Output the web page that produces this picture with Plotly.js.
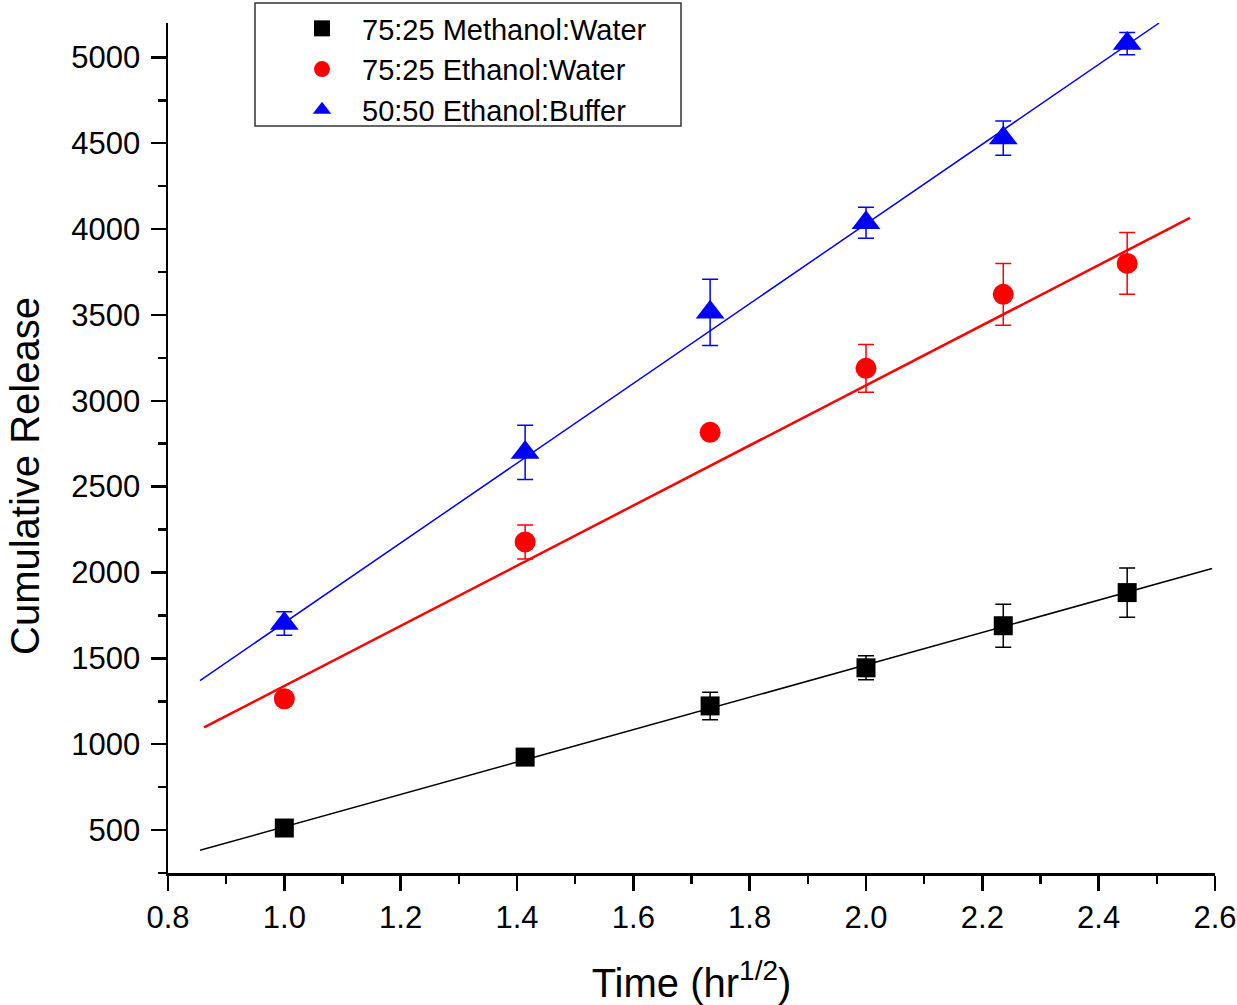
<!DOCTYPE html>
<html>
<head>
<meta charset="utf-8">
<script src="https://cdn.plot.ly/plotly-3.0.1.min.js"></script>
<style>html,body{margin:0;padding:0;background:#fff;}#chart{width:1237px;height:1005px;}</style>
</head>
<body>
<div id="chart"></div>
<script>
// ---- data ----
const timeX = [1.0, 1.414, 1.732, 2.0, 2.236, 2.449];

const seriesNames = ["75:25 Methanol:Water", "75:25 Ethanol:Water", "50:50 Ethanol:Buffer"];

const methanolY   = [512, 925, 1223, 1445, 1690, 1883];
const methanolErr = [0, 0, 80, 70, 125, 143];

const ethanolY    = [1265, 2178, 2816, 3189, 3620, 3800];
const ethanolErr  = [0, 99, 0, 139, 180, 180];

const bufferY     = [1703, 2699, 3515, 4037, 4530, 5080];
const bufferErr   = [68, 158, 193, 90, 100, 65];

// linear-fit line end points as drawn in the reference
const methanolFitX = [0.855, 2.595];
const methanolFitY = [382, 2023];
const ethanolFitX  = [0.862, 2.557];
const ethanolFitY  = [1098, 4065];
const bufferFitX   = [0.855, 2.504];
const bufferFitY   = [1371, 5200];

const xTitle = "Time (hr<sup>1/2</sup>)";
const yTitle = "Cumulative Release";

// ---- chart ----
const FONT = "Liberation Sans, Arial, Helvetica, sans-serif";

function pts(name, y, err, color, symbol, size) {
  return {
    type: "scatter", mode: "markers", name: name,
    x: timeX, y: y,
    marker: {color: color, symbol: symbol, size: size, line: {width: 0}},
    error_y: {type: "data", array: err, visible: true, color: color, thickness: 1.5, width: 8},
    cliponaxis: false
  };
}
function fit(x, y, color, w) {
  return {type: "scatter", mode: "lines", x: x, y: y, showlegend: false,
          hoverinfo: "skip", line: {color: color, width: w}};
}

const traces = [
  fit(methanolFitX, methanolFitY, "#000000", 1.5),
  fit(ethanolFitX, ethanolFitY, "#ff0000", 2.5),
  fit(bufferFitX, bufferFitY, "#0000ff", 1.5),
  pts(seriesNames[0], methanolY, methanolErr, "#000000", "square", 19),
  pts(seriesNames[1], ethanolY, ethanolErr, "#ff0000", "circle", 21),
  pts(seriesNames[2], bufferY, bufferErr, "#0000ff", "triangle-up", 25)
];

const axisCommon = {
  showline: true, linecolor: "#000", linewidth: 2.5, mirror: false,
  showgrid: false, zeroline: false,
  ticks: "outside", ticklen: 15, tickwidth: 2.5, tickcolor: "#000",
  tickfont: {family: FONT, size: 31, color: "#000"}
};

// plot area: full paper spans px 3..873 vertically; y axis drawn on 23..873
const layout = {
  width: 1237, height: 1005,
  margin: {l: 168, r: 22, t: 3, b: 132},
  paper_bgcolor: "#fff", plot_bgcolor: "#fff",
  font: {family: FONT, color: "#000"},
  showlegend: true,
  xaxis: Object.assign({}, axisCommon, {
    range: [0.8, 2.6], dtick: 0.2, tick0: 0.8, tickformat: ".1f",
    minor: {ticks: "outside", ticklen: 8, tickwidth: 2.5, tickcolor: "#000", dtick: 0.1, tick0: 0.8, showgrid: false},
    title: {text: xTitle, font: {family: FONT, size: 40, color: "#000"}, standoff: 38}
  }),
  yaxis: Object.assign({}, axisCommon, {
    domain: [0, 850 / 870],
    range: [250, 5200], dtick: 500, tick0: 500,
    ticklabelstandoff: 4,
    minor: {ticks: "outside", ticklen: 8, tickwidth: 2.5, tickcolor: "#000", dtick: 250, tick0: 0, showgrid: false}
  }),
  annotations: [{
    text: yTitle, xref: "paper", yref: "paper",
    x: (25 - 168) / 1047, y: (873 - 476) / 870,
    xanchor: "center", yanchor: "middle", textangle: -90, showarrow: false,
    font: {family: FONT, size: 40, color: "#000"}
  }],
  shapes: [{
    type: "rect", xref: "paper", yref: "paper", layer: "above",
    x0: (255 - 168) / 1047, x1: (681 - 168) / 1047,
    y0: (873 - 126) / 870, y1: (873 - 3) / 870,
    line: {color: "#333", width: 1.5}, fillcolor: "rgba(0,0,0,0)"
  }],
  legend: {
    x: (282 - 168) / 1047, y: 1, xanchor: "left", yanchor: "top",
    bgcolor: "rgba(0,0,0,0)", borderwidth: 0,
    font: {family: FONT, size: 29, color: "#000"},
    itemwidth: 70, tracegroupgap: 0
  }
};

Plotly.newPlot("chart", traces, layout, {displayModeBar: false, staticPlot: true});
</script>
</body>
</html>
